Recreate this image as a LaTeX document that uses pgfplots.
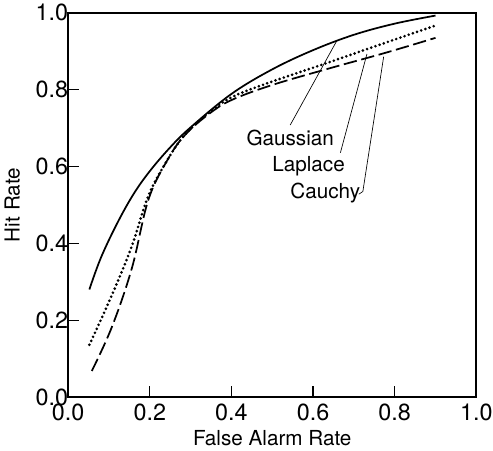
\documentclass[border=0pt]{standalone}
\usepackage{fontspec}
\setmainfont{TeX Gyre Heros}
\usepackage{pgfplots}
\pgfplotsset{compat=1.18}

\begin{document}
\begin{tikzpicture}[trim right=(rb)]
\begin{axis}[
    scale only axis,
    width=306pt,
    height=288pt,
    xmin=0, xmax=1,
    ymin=0, ymax=1,
    xtick={0,0.2,0.4,0.6,0.8,1.0},
    ytick={0,0.2,0.4,0.6,0.8,1.0},
    tick pos=left,
    tick align=inside,
    major tick length=8pt,
    every tick/.append style={line width=1pt, black},
    axis line style={line width=1.3pt},
    /pgf/number format/fixed,
    /pgf/number format/fixed zerofill,
    /pgf/number format/precision=1,
    /pgf/number format/assume math mode=true,
    xticklabel style={font=\fontsize{17.5}{19}\selectfont, yshift=-2pt},
    yticklabel style={font=\fontsize{17.5}{19}\selectfont, xshift=3.5pt},
    xlabel style={font=\fontsize{15.5}{18}\selectfont, yshift=0pt},
    ylabel style={font=\fontsize{15.5}{18}\selectfont, yshift=5pt},
    xlabel={False Alarm Rate},
    ylabel={Hit Rate},
    clip=false,
]
% Gaussian
\addplot[black, line width=1.3pt, smooth, tension=0.6] coordinates {
    (0.052,0.280) (0.080,0.362) (0.120,0.452) (0.160,0.528) (0.200,0.588)
    (0.250,0.650) (0.300,0.702) (0.400,0.789) (0.500,0.853) (0.600,0.903)
    (0.700,0.943) (0.800,0.972) (0.900,0.993)
};
% Laplace
\addplot[black, line width=2.2pt, smooth, tension=0.6, line cap=round, dash pattern=on 0pt off 3.3pt] coordinates {
    (0.052,0.136) (0.107,0.265) (0.156,0.393) (0.197,0.525) (0.246,0.622)
    (0.287,0.684) (0.345,0.740) (0.400,0.780) (0.483,0.815) (0.638,0.871)
    (0.760,0.916) (0.900,0.967)
};
% Cauchy
\addplot[black, line width=1.3pt, smooth, tension=0.6, dash pattern=on 10pt off 3.5pt] coordinates {
    (0.058,0.068) (0.107,0.182) (0.156,0.335) (0.197,0.515) (0.246,0.622)
    (0.287,0.683) (0.345,0.737) (0.400,0.773) (0.499,0.812) (0.638,0.855)
    (0.777,0.896) (0.900,0.935)
};
% tick marks (inward)
\pgfplotsinvokeforeach{0.2,0.4,0.6,0.8}{
    \draw[line width=1pt] (axis cs:#1,0) -- ++(0,8pt);
    \draw[line width=1pt] (axis cs:0,#1) -- ++(8pt,0);
}
% labels and leader lines
\node[font=\fontsize{15.5}{18}\selectfont] at (axis cs:0.544,0.674) {Gaussian};
\node[font=\fontsize{15.5}{18}\selectfont] at (axis cs:0.589,0.602) {Laplace};
\node[font=\fontsize{15.5}{18}\selectfont] at (axis cs:0.630,0.530) {Cauchy};
\draw[line width=0.5pt] (axis cs:0.544,0.708) -- (axis cs:0.659,0.929);
\draw[line width=0.5pt] (axis cs:0.667,0.636) -- (axis cs:0.732,0.893);
\draw[line width=0.5pt] (axis cs:0.712,0.528) -- (axis cs:0.722,0.535) -- (axis cs:0.773,0.886);
\end{axis}
\coordinate (rb) at ([xshift=12.5pt]current axis.east);
\end{tikzpicture}
\end{document}
